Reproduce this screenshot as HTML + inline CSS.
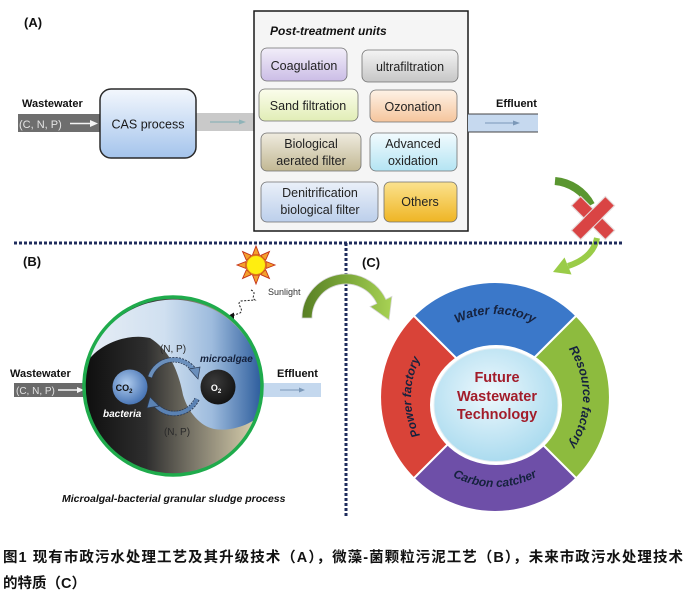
<!DOCTYPE html>
<html><head><meta charset="utf-8"><style>
html,body{margin:0;padding:0;background:#fff;}
svg{display:block;font-family:"Liberation Sans",sans-serif;}
</style></head><body>
<svg width="692" height="598" viewBox="0 0 692 598" xmlns="http://www.w3.org/2000/svg">
<defs>
<linearGradient id="cas" x1="0" y1="0" x2="0" y2="1"><stop offset="0" stop-color="#f3f7fd"/><stop offset="1" stop-color="#a4c4ec"/></linearGradient>
<linearGradient id="g1" x1="0" y1="0" x2="0" y2="1"><stop offset="0" stop-color="#f2eef9"/><stop offset="1" stop-color="#cbbde6"/></linearGradient>
<linearGradient id="g2" x1="0" y1="0" x2="0" y2="1"><stop offset="0" stop-color="#f4f4f4"/><stop offset="1" stop-color="#c6c6c6"/></linearGradient>
<linearGradient id="g3" x1="0" y1="0" x2="0" y2="1"><stop offset="0" stop-color="#fbfdec"/><stop offset="1" stop-color="#e1edb6"/></linearGradient>
<linearGradient id="g4" x1="0" y1="0" x2="0" y2="1"><stop offset="0" stop-color="#fef2e6"/><stop offset="1" stop-color="#f5c59c"/></linearGradient>
<linearGradient id="g5" x1="0" y1="0" x2="0" y2="1"><stop offset="0" stop-color="#efebdf"/><stop offset="1" stop-color="#c2b893"/></linearGradient>
<linearGradient id="g6" x1="0" y1="0" x2="0" y2="1"><stop offset="0" stop-color="#f2fbfe"/><stop offset="1" stop-color="#b4e4f3"/></linearGradient>
<linearGradient id="g7" x1="0" y1="0" x2="0" y2="1"><stop offset="0" stop-color="#eaf0f9"/><stop offset="1" stop-color="#bccfeb"/></linearGradient>
<linearGradient id="g8" x1="0" y1="0" x2="0" y2="1"><stop offset="0" stop-color="#fbe28e"/><stop offset="1" stop-color="#efb524"/></linearGradient>
<linearGradient id="darkbase" gradientUnits="userSpaceOnUse" x1="84" y1="0" x2="262" y2="0"><stop offset="0" stop-color="#0e0e0e"/><stop offset="0.35" stop-color="#2e2e2e"/><stop offset="0.62" stop-color="#7c786a"/><stop offset="1" stop-color="#e2d8b4"/></linearGradient>
<linearGradient id="bluereg" gradientUnits="userSpaceOnUse" x1="84" y1="0" x2="262" y2="0"><stop offset="0" stop-color="#e8eef6"/><stop offset="0.45" stop-color="#d0e0f0"/><stop offset="0.72" stop-color="#9dbbdd"/><stop offset="1" stop-color="#2c5c9c"/></linearGradient>
<radialGradient id="co2" cx="0.4" cy="0.4" r="0.7"><stop offset="0" stop-color="#b0ccee"/><stop offset="1" stop-color="#3b6aae"/></radialGradient>
<radialGradient id="o2" cx="0.4" cy="0.35" r="0.7"><stop offset="0" stop-color="#3a3a3a"/><stop offset="1" stop-color="#111"/></radialGradient>
<radialGradient id="inner" cx="0.45" cy="0.4" r="0.65"><stop offset="0" stop-color="#edf8fd"/><stop offset="1" stop-color="#a6d9ee"/></radialGradient>
<linearGradient id="garc" gradientUnits="userSpaceOnUse" x1="302" y1="0" x2="392" y2="0"><stop offset="0" stop-color="#587f24"/><stop offset="0.5" stop-color="#7ca83a"/><stop offset="1" stop-color="#a8d254"/></linearGradient>
<clipPath id="cc"><circle cx="173" cy="386" r="89"/></clipPath>
</defs>

<!-- ===== (A) ===== -->
<text x="24" y="27" font-size="13" font-weight="bold" fill="#111">(A)</text>
<text x="22" y="107" font-size="11" font-weight="bold" fill="#111">Wastewater</text>
<rect x="18" y="114" width="84" height="18" fill="#6e6e6e"/>
<text x="19" y="128" font-size="11" fill="#e4e4e4">(C, N, P)</text>
<line x1="70" y1="123.5" x2="92" y2="123.5" stroke="#f4f4f4" stroke-width="1.6"/>
<polygon points="98,123.5 90,120 90,127" fill="#f4f4f4"/>
<rect x="196" y="113" width="60" height="18" fill="#c9c9c9"/>
<line x1="210" y1="122" x2="240" y2="122" stroke="#8fb3b8" stroke-width="1.2"/>
<polygon points="246,122 239,119.5 239,124.5" fill="#8fb3b8"/>
<rect x="100" y="89" width="96" height="69" rx="11" fill="url(#cas)" stroke="#2a2a2a" stroke-width="1.5"/>
<text x="148" y="128.5" font-size="12.5" fill="#1a1a1a" text-anchor="middle">CAS process</text>

<rect x="254" y="11" width="214" height="220" fill="#f5f5f5" stroke="#1a1a1a" stroke-width="1.5"/>
<text x="270" y="35" font-size="12" font-weight="bold" font-style="italic" fill="#111">Post-treatment  units</text>

<g stroke="#707070" stroke-width="0.8">
<rect x="261" y="48" width="86" height="33" rx="6" fill="url(#g1)"/>
<rect x="362" y="50" width="96" height="32" rx="6" fill="url(#g2)"/>
<rect x="259" y="89" width="99" height="32" rx="6" fill="url(#g3)"/>
<rect x="370" y="90" width="87" height="32" rx="6" fill="url(#g4)"/>
<rect x="261" y="133" width="100" height="38" rx="6" fill="url(#g5)"/>
<rect x="370" y="133" width="87" height="38" rx="6" fill="url(#g6)"/>
<rect x="261" y="182" width="117" height="40" rx="6" fill="url(#g7)"/>
<rect x="384" y="182" width="73" height="40" rx="6" fill="url(#g8)"/>
</g>
<g font-size="12.5" fill="#222" text-anchor="middle">
<text x="304" y="70">Coagulation</text>
<text x="410" y="71">ultrafiltration</text>
<text x="308" y="110">Sand filtration</text>
<text x="413" y="111">Ozonation</text>
<text x="311" y="148">Biological</text>
<text x="311" y="165">aerated filter</text>
<text x="413" y="148">Advanced</text>
<text x="413" y="165">oxidation</text>
<text x="320" y="197">Denitrification</text>
<text x="320" y="214">biological filter</text>
<text x="420" y="206">Others</text>
</g>

<rect x="468" y="114" width="70" height="18" fill="#c6d9ef"/>
<line x1="468" y1="114" x2="538" y2="114" stroke="#444" stroke-width="1"/>
<line x1="468" y1="132" x2="538" y2="132" stroke="#444" stroke-width="1"/>
<line x1="485" y1="123" x2="514" y2="123" stroke="#7b98b8" stroke-width="1.1"/>
<polygon points="520,123 513,120.5 513,125.5" fill="#7b98b8"/>
<text x="496" y="107" font-size="11" font-weight="bold" fill="#111">Effluent</text>

<!-- X area arrows -->
<path d="M555,181 A45,45 0 0 1 591,205" fill="none" stroke="#5a9630" stroke-width="8"/>
<g transform="translate(593,218) rotate(45)">
<rect x="-24" y="-6.5" width="48" height="13" fill="#d94444" stroke="#e6dada" stroke-width="1.2"/>
<rect x="-6.5" y="-24" width="13" height="48" fill="#d94444" stroke="#e6dada" stroke-width="1.2"/>
<rect x="-6" y="-6" width="12" height="12" fill="#d94444"/>
</g>
<path d="M597,238 Q593,258 568,266" fill="none" stroke="#9acc48" stroke-width="6"/>
<polygon points="553,272 571.5,274.5 564.5,257.5" fill="#9acc48"/>

<!-- dotted separators -->
<line x1="14" y1="243" x2="624" y2="243" stroke="#1f2c5c" stroke-width="3" stroke-dasharray="3,2"/>
<line x1="346" y1="243" x2="346" y2="518" stroke="#1f2c5c" stroke-width="3" stroke-dasharray="3,2"/>

<!-- ===== (B) ===== -->
<text x="23" y="266" font-size="13" font-weight="bold" fill="#111">(B)</text>
<g transform="translate(256,265)" fill="#f4a02c" stroke="#c4321a" stroke-width="0.9">
<polygon points="-3.5,-10 0,-19 3.5,-10"/>
<polygon points="-3.5,-10 0,-19 3.5,-10" transform="rotate(45)"/>
<polygon points="-3.5,-10 0,-19 3.5,-10" transform="rotate(90)"/>
<polygon points="-3.5,-10 0,-19 3.5,-10" transform="rotate(135)"/>
<polygon points="-3.5,-10 0,-19 3.5,-10" transform="rotate(180)"/>
<polygon points="-3.5,-10 0,-19 3.5,-10" transform="rotate(225)"/>
<polygon points="-3.5,-10 0,-19 3.5,-10" transform="rotate(270)"/>
<polygon points="-3.5,-10 0,-19 3.5,-10" transform="rotate(315)"/>
<circle r="9.5" fill="#ffee10" stroke="#e08018" stroke-width="1"/>
</g>
<text x="268" y="295" font-size="9" fill="#333">Sunlight</text>
<path d="M251,290 C258,293 250,297 255,300 L241,301 C235,304 245,309 240,313 L233,315.5" fill="none" stroke="#222" stroke-width="1" stroke-dasharray="2,1.5"/>
<polygon points="227,316.5 234,312.5 234,320" fill="#111"/>

<text x="10" y="377" font-size="11" font-weight="bold" fill="#111">Wastewater</text>
<rect x="14" y="383" width="74" height="14" fill="#6a6a6a"/>
<text x="16" y="394" font-size="10" fill="#e2e2e2">(C, N, P)</text>
<line x1="58" y1="390" x2="78" y2="390" stroke="#f4f4f4" stroke-width="1.5"/>
<polygon points="84,390 77,387 77,393" fill="#f4f4f4"/>
<text x="277" y="377" font-size="11" font-weight="bold" fill="#111">Effluent</text>
<rect x="258" y="383" width="63" height="14" fill="#c4d8ee"/>
<line x1="280" y1="390" x2="300" y2="390" stroke="#7b98b8" stroke-width="1"/>
<polygon points="305,390 299,387.5 299,392.5" fill="#7b98b8"/>

<g clip-path="url(#cc)">
<rect x="80" y="295" width="190" height="185" fill="url(#darkbase)"/>
<path d="M87,362 A89,89 0 1 1 258,417 C250,424 232,432 214,429 C200,426 188,412 183,395 C179,375 172,352 150,338 C128,333 100,343 87,362 Z" fill="url(#bluereg)"/>
</g>
<circle cx="173" cy="386" r="89" fill="none" stroke="#1fab4c" stroke-width="3.5"/>
<circle cx="130" cy="387" r="17.5" fill="url(#co2)"/>
<circle cx="218" cy="387" r="17.5" fill="url(#o2)"/>
<text x="124" y="391" font-size="9" font-weight="bold" fill="#111" text-anchor="middle">CO<tspan font-size="6" dy="2">2</tspan></text>
<text x="216" y="391" font-size="9" font-weight="bold" fill="#fff" text-anchor="middle">O<tspan font-size="6" dy="2">2</tspan></text>
<path d="M150,377 A25,25 0 0 1 194,370" fill="none" stroke="#2a3a54" stroke-width="5.5" stroke-dasharray="2,1"/>
<path d="M150,377 A25,25 0 0 1 194,370" fill="none" stroke="#6a8fbc" stroke-width="3.8"/>
<polygon points="189,369 200,367 198,379" fill="#6a8fbc" stroke="#2a3a54" stroke-width="0.7"/>
<path d="M197,399 A25,25 0 0 1 154,403" fill="none" stroke="#2a3a54" stroke-width="5.5" stroke-dasharray="2,1"/>
<path d="M197,399 A25,25 0 0 1 154,403" fill="none" stroke="#5a82b4" stroke-width="3.8"/>
<polygon points="159,406 147,408 150,397" fill="#5a82b4" stroke="#2a3a54" stroke-width="0.7"/>
<text x="173" y="352" font-size="10" fill="#2a2a2a" text-anchor="middle">(N, P)</text>
<text x="177" y="435" font-size="10" fill="#2a2a2a" text-anchor="middle">(N, P)</text>
<text x="200" y="362" font-size="10" font-weight="bold" font-style="italic" fill="#14203a">microalgae</text>
<text x="103" y="417" font-size="10" font-weight="bold" font-style="italic" fill="#fff">bacteria</text>
<text x="62" y="502" font-size="10.5" font-weight="bold" font-style="italic" fill="#111">Microalgal-bacterial granular sludge process</text>

<path d="M302,318 A44,44 0 0 1 385.9,299.4 L391.9,296.4 L389,320 L370.1,306.6 L376.8,303.6 A34,34 0 0 0 312,318 Z" fill="url(#garc)" stroke="#d4d4d4" stroke-width="0.8"/>

<!-- ===== (C) ===== -->
<text x="362" y="267" font-size="13" font-weight="bold" fill="#111">(C)</text>
<g stroke="#fff" stroke-width="2">
<path d="M495,397 L413.7,315.7 A115,115 0 0 1 576.3,315.7 Z" fill="#3b78c9"/>
<path d="M495,397 L576.3,315.7 A115,115 0 0 1 576.3,478.3 Z" fill="#8dbb3e"/>
<path d="M495,397 L576.3,478.3 A115,115 0 0 1 413.7,478.3 Z" fill="#6e4fa8"/>
<path d="M495,397 L413.7,478.3 A115,115 0 0 1 413.7,315.7 Z" fill="#d94338"/>
</g>
<ellipse cx="496" cy="405" rx="66" ry="60" fill="#fff"/>
<ellipse cx="496" cy="405" rx="62" ry="56.5" fill="url(#inner)" stroke="#e4eef2" stroke-width="1"/>
<text x="497" y="382" font-size="14.5" font-weight="bold" fill="#a21c2a" text-anchor="middle">Future</text>
<text x="497" y="401" font-size="14.5" font-weight="bold" fill="#a21c2a" text-anchor="middle">Wastewater</text>
<text x="497" y="419" font-size="14.5" font-weight="bold" fill="#a21c2a" text-anchor="middle">Technology</text>

<path id="pTop" d="M412,397 A83,83 0 0 1 578,397" fill="none"/>
<path id="pRight" d="M495,309 A88,88 0 0 1 495,485" fill="none"/>
<path id="pLeft" d="M495,481 A84,84 0 0 1 495,313" fill="none"/>
<path id="pBot" d="M405,397 A90,90 0 0 0 585,397" fill="none"/>
<g font-weight="bold" font-style="italic" fill="#16223e">
<text font-size="12.5"><textPath href="#pTop" startOffset="50%" text-anchor="middle">Water factory</textPath></text>
<text font-size="12.5"><textPath href="#pRight" startOffset="50%" text-anchor="middle">Resource factory</textPath></text>
<text font-size="12"><textPath href="#pLeft" startOffset="50%" text-anchor="middle">Power factory</textPath></text>
<text font-size="12"><textPath href="#pBot" startOffset="50%" text-anchor="middle">Carbon catcher</textPath></text>
</g>

<g font-family="'Liberation Sans','Noto Sans CJK SC',sans-serif" font-size="14.5" font-weight="bold" fill="#111">
<text x="3" y="562" textLength="680" lengthAdjust="spacing">图1 现有市政污水处理工艺及其升级技术（A），微藻-菌颗粒污泥工艺（B），未来市政污水处理技术</text>
<text x="3" y="588">的特质（C）</text>
</g>
</svg>
</body></html>
